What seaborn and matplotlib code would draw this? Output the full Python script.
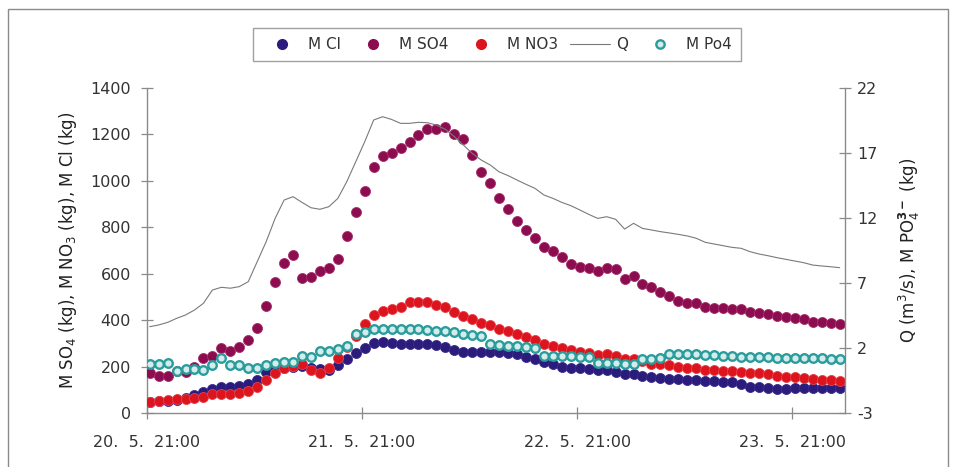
import matplotlib
matplotlib.use("Agg")
import matplotlib.pyplot as plt
import seaborn as sns
import numpy as np
from matplotlib.lines import Line2D
from matplotlib.patches import Rectangle

# hourly samples, counted in hours from 20. 5. 21:00
hours = np.arange(78) + 0.3

tick_hours = [0, 24, 48, 72]
tick_labels = ["20.  5.  21:00", "21.  5.  21:00", "22.  5.  21:00", "23.  5.  21:00"]

# loads in kg (left axis)
m_cl = [48, 50, 53, 58, 64, 78, 89, 102, 113, 113, 116, 125, 142, 175, 188, 195, 200, 202, 196, 190,
        185, 207, 233, 257, 279, 300, 304, 300, 297, 297, 297, 297, 293, 286, 271, 261, 261, 261, 262, 262,
        257, 256, 243, 233, 218, 210, 200, 195, 192, 188, 184, 184, 178, 170, 170, 161, 155, 152, 145,
        145, 142, 141, 138, 138, 135, 133, 125, 113, 111, 106, 103, 103, 106, 106, 109, 109, 109, 106]

m_so4 = [171, 161, 161, 181, 178, 200, 236, 247, 281, 268, 286, 314, 368, 462, 566, 647, 681, 583, 587, 610,
         626, 663, 762, 864, 958, 1061, 1108, 1119, 1140, 1166, 1198, 1223, 1223, 1232, 1202, 1179, 1111, 1040, 992, 925,
         877, 827, 788, 755, 717, 698, 673, 640, 630, 623, 612, 623, 619, 576, 590, 556, 541, 523, 504,
         482, 475, 472, 458, 454, 451, 448, 446, 434, 431, 425, 419, 415, 408, 403, 391, 390, 386, 382]

m_no3 = [49, 52, 55, 59, 60, 66, 70, 80, 83, 80, 86, 95, 113, 142, 171, 195, 204, 210, 184, 171,
         192, 238, 285, 330, 382, 422, 441, 448, 458, 477, 480, 477, 465, 458, 437, 419, 403, 386, 380, 360,
         353, 342, 329, 314, 299, 289, 279, 270, 264, 257, 250, 253, 247, 233, 233, 225, 212, 212, 207,
         200, 195, 192, 185, 184, 182, 182, 178, 171, 171, 167, 159, 156, 154, 149, 146, 142, 141, 138]

# discharge in m3/s and phosphate load in kg (right axis)
q = [3.64, 3.77, 3.97, 4.28, 4.54, 4.92, 5.44, 6.46, 6.67, 6.60, 6.72, 7.10, 8.64, 10.18, 11.97, 13.38, 13.64, 13.20, 12.79,
     12.67, 12.87, 13.51, 14.80, 16.33, 17.87, 19.54, 19.79, 19.58, 19.28, 19.28, 19.36, 19.33, 19.15, 18.82, 18.26, 17.62,
     16.97, 16.46, 16.08, 15.55,
     15.26, 14.92, 14.59, 14.28, 13.77, 13.51, 13.20, 12.95, 12.62, 12.28, 11.97, 12.10, 11.90, 11.15, 11.59, 11.20, 11.08,
     10.95, 10.85,
     10.74, 10.62, 10.44, 10.13, 10.00, 9.87, 9.74, 9.67, 9.41, 9.23, 9.10, 8.95, 8.82, 8.69, 8.56, 8.38, 8.31, 8.25, 8.18]

m_po4 = [0.77, 0.77, 0.87, 0.23, 0.38, 0.35, 0.30, 0.69, 1.21, 0.69, 0.69, 0.48, 0.48, 0.69, 0.82, 0.95, 0.95, 1.41, 1.34, 1.79,
         1.79, 1.90, 2.18, 3.05, 3.25, 3.46, 3.50, 3.48, 3.44, 3.44, 3.44, 3.42, 3.33, 3.31, 3.21, 3.07, 3.00, 2.95, 2.29, 2.20,
         2.16, 2.16, 2.10, 2.02, 1.41, 1.41, 1.39, 1.39, 1.34, 1.34, 0.87, 0.87, 0.87, 0.75, 0.80, 1.16, 1.16, 1.21, 1.52,
         1.52, 1.52, 1.52, 1.46, 1.46, 1.41, 1.41, 1.34, 1.34, 1.34, 1.29, 1.25, 1.25, 1.25, 1.21, 1.21, 1.21, 1.16, 1.16]

C_CL = "#2b1c7c"
C_SO4 = "#8c0c50"
C_NO3 = "#dc141e"
C_PO4 = "#2a9c9c"
C_PO4_FACE = "#d4ecec"
C_Q = "#7a7a7a"
C_AX = "#8a8a8a"

sns.set_theme(style="white")
plt.rcParams["font.family"] = ["DejaVu Sans"]
plt.rcParams["axes.unicode_minus"] = False

W, H = 955, 467
fig = plt.figure(figsize=(W / 100, H / 100), dpi=100)
ax = fig.add_axes([147 / W, 1 - 413 / H, (845 - 147) / W, (413 - 88) / H])
ax2 = ax.twinx()

ms = 52
sns.scatterplot(x=hours, y=m_so4, ax=ax, color=C_SO4, s=ms, edgecolor="#a8306c", linewidth=0.6, zorder=3)
sns.scatterplot(x=hours, y=m_cl, ax=ax, color=C_CL, s=ms, edgecolor="#3a2c8c", linewidth=0.6, zorder=4)
sns.scatterplot(x=hours, y=m_no3, ax=ax, color=C_NO3, s=ms, edgecolor="#e8404a", linewidth=0.6, zorder=5)

sns.lineplot(x=hours, y=q, ax=ax2, color=C_Q, linewidth=0.8, zorder=2)
sns.scatterplot(x=hours, y=m_po4, ax=ax2, facecolor=C_PO4_FACE, edgecolor=C_PO4, s=38, linewidth=1.7, zorder=6)

ax.set_xlim(0, 77.9)
ax.set_ylim(0, 1400)
ax.set_yticks(range(0, 1401, 200))
ax2.set_ylim(-3, 22)
ax2.set_yticks([-3, 2, 7, 12, 17, 22])
ax.set_xticks(tick_hours)
ax.set_xticklabels(tick_labels)

for a in (ax, ax2):
    for s in a.spines.values():
        s.set_visible(False)
for side in ("left", "bottom"):
    ax.spines[side].set_visible(True)
    ax.spines[side].set_color(C_AX)
    ax.spines[side].set_linewidth(1.0)
ax2.spines["right"].set_visible(True)
ax2.spines["right"].set_color(C_AX)
ax2.spines["right"].set_linewidth(1.0)

ax.tick_params(axis="y", left=True, direction="inout", length=9, width=0.9, color=C_AX,
               labelsize=11.5, labelcolor="#333333", pad=7)
ax.tick_params(axis="x", bottom=True, direction="inout", length=9, width=0.9, color=C_AX,
               labelsize=11.5, labelcolor="#333333", pad=11)
ax2.tick_params(axis="y", right=True, direction="inout", length=9, width=0.9, color=C_AX,
                labelsize=11.5, labelcolor="#333333", pad=4)

ax.set_ylabel(r"M SO$_4$ (kg), M NO$_3$ (kg), M Cl (kg)", fontsize=12, color="#222222", labelpad=8)
ax2.set_ylabel(r"Q (m$^3$/s), M PO$_4^{\mathbf{3-}}$ (kg)", fontsize=12, color="#222222", labelpad=14)
ax.grid(False)
ax2.grid(False)

handles = [
    Line2D([], [], linestyle="none", marker="o", markersize=7, markerfacecolor=C_CL, markeredgecolor=C_CL),
    Line2D([], [], linestyle="none", marker="o", markersize=7, markerfacecolor=C_SO4, markeredgecolor=C_SO4),
    Line2D([], [], linestyle="none", marker="o", markersize=7, markerfacecolor=C_NO3, markeredgecolor=C_NO3),
    Line2D([], [], color=C_Q, linewidth=0.8),
    Line2D([], [], linestyle="none", marker="o", markersize=6, markerfacecolor=C_PO4_FACE,
           markeredgecolor=C_PO4, markeredgewidth=1.7),
]
labels = ["M Cl", "M SO4", "M NO3", "Q", "M Po4"]
leg = fig.legend(handles, labels, loc="center", bbox_to_anchor=(497 / W, 1 - 44.5 / H), ncol=5,
                 frameon=True, fancybox=False, edgecolor=C_AX, fontsize=11, handlelength=2.6,
                 handletextpad=0.4, columnspacing=0.8, borderpad=0.6)
leg.get_frame().set_linewidth(1.0)
for t in leg.get_texts():
    t.set_color("#333333")

# outer frame around the figure
fig.add_artist(Rectangle((8 / W, -0.05), (948 - 8) / W, 1.05 - 9 / H, transform=fig.transFigure,
                         fill=False, edgecolor=C_AX, linewidth=1.0))

fig.savefig("out.png", dpi=100)
